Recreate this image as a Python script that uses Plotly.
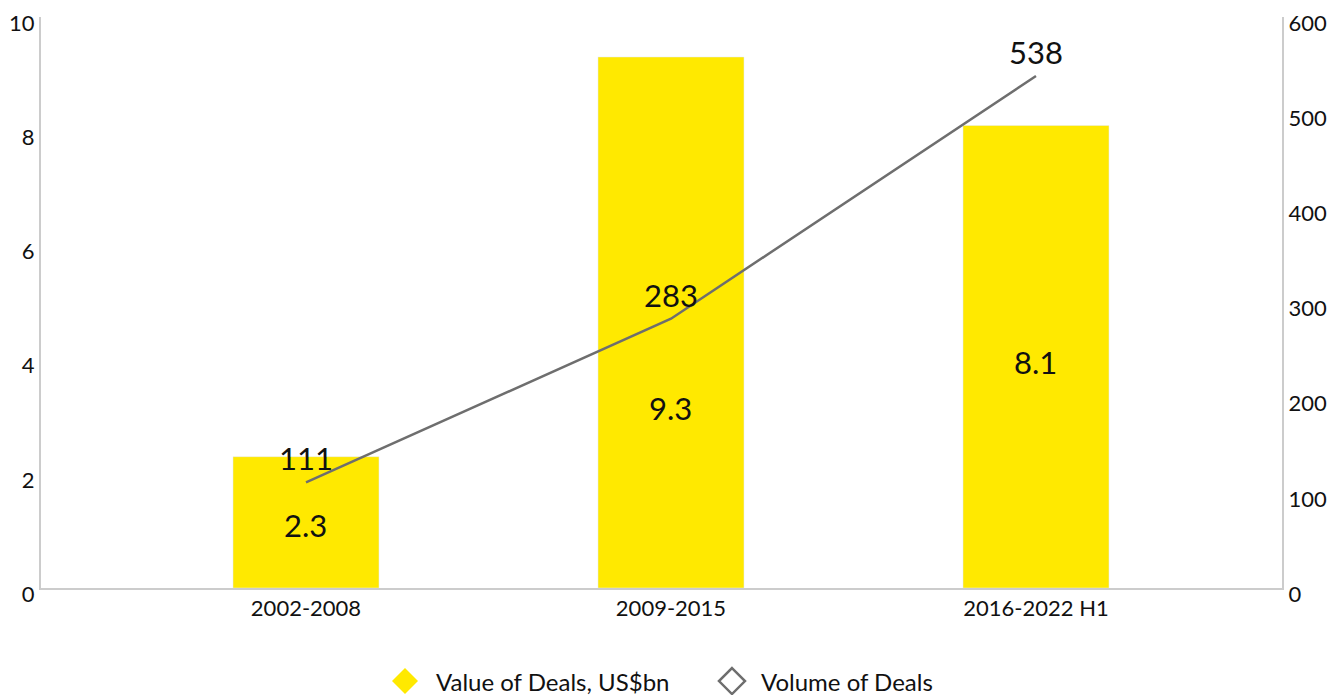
import plotly.graph_objects as go

periods = ['2002-2008', '2009-2015', '2016-2022 H1']
deal_value = [2.3, 9.3, 8.1]       # US$bn
deal_volume = [111, 283, 538]      # number of deals

# where the value labels sit inside the bars (left axis units)
value_label_y = [1.1, 3.15, 3.95]

yellow = '#FFE900'
grey = '#6E6E6E'
axis_grey = '#CCCCCC'
txt = '#111111'
font = 'Lato, Open Sans, sans-serif'

fig = go.Figure()

fig.add_trace(go.Bar(x=periods, y=deal_value, marker_color=yellow,
                     width=0.4, showlegend=False, hoverinfo='y'))

fig.add_trace(go.Scatter(x=periods, y=deal_volume, yaxis='y2', mode='lines',
                         line=dict(color=grey, width=2.5), showlegend=False))

# bar labels
for p, ly, v in zip(periods, value_label_y, deal_value):
    fig.add_annotation(x=p, y=ly, text=str(v), showarrow=False,
                       font=dict(size=31, color=txt, family=font))

# line labels
for p, v in zip(periods, deal_volume):
    fig.add_annotation(x=p, y=v, yref='y2', text=str(v), showarrow=False, yshift=24,
                       font=dict(size=31, color=txt, family=font))

# legend (drawn by hand so the diamonds get the right size)
leg_y = -0.163
legend_items = [('Value of Deals, US$bn', 0.2933, 0.3167, dict(fillcolor=yellow, line=dict(width=0))),
                ('Volume of Deals', 0.5568, 0.5786, dict(fillcolor='rgba(0,0,0,0)', line=dict(color=grey, width=2.5)))]
for name, mx, tx, style in legend_items:
    fig.add_shape(type='path', xref='paper', yref='paper', xsizemode='pixel', ysizemode='pixel',
                  xanchor=mx, yanchor=leg_y, path='M 0,13 L 13,0 L 0,-13 L -13,0 Z', **style)
    fig.add_annotation(xref='paper', yref='paper', x=tx, y=leg_y, xanchor='left', yanchor='middle',
                       text=name, showarrow=False, font=dict(size=24, color=txt, family=font))

yax = dict(showline=True, linecolor=axis_grey, linewidth=2, showgrid=False, zeroline=False,
           ticks='', automargin=False, tickfont=dict(size=22),
           ticklabelshift=6, ticklabeloverflow='allow')

# page body adds an 8px offset, margins compensate for it
fig.update_layout(
    width=1344, height=695,
    margin=dict(l=33, r=70, t=9, b=115),
    plot_bgcolor='white', paper_bgcolor='white',
    font=dict(family=font, color=txt, size=22),
    showlegend=False,
    xaxis=dict(range=[-0.726, 2.674], showline=True, linecolor=axis_grey, linewidth=2,
               ticks='', showgrid=False, automargin=False, tickfont=dict(size=22)),
    yaxis=dict(range=[0, 10], dtick=2, **yax),
    yaxis2=dict(range=[0, 600], dtick=100, overlaying='y', side='right', **yax),
)

fig.write_html("out.html")
